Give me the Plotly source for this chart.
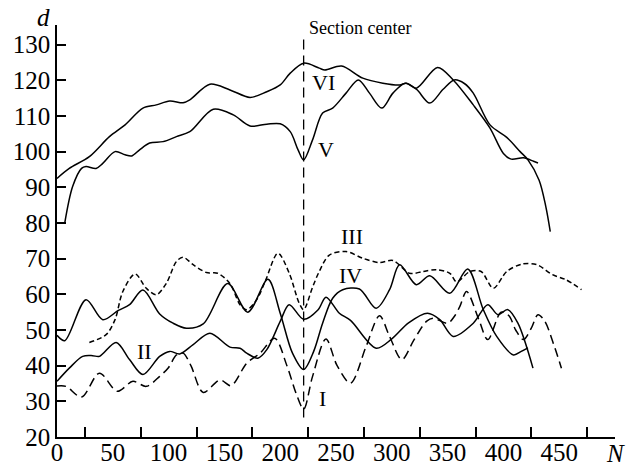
import plotly.graph_objects as go

# ---- data ----
N_I = [0, 8, 22, 38, 54, 68, 80, 92, 100, 107, 113, 120, 131, 146, 156, 170, 182, 195, 206, 214.5, 221,
       229, 241, 251, 263, 277, 289, 298, 309, 320, 331, 337, 350, 356, 361, 367, 378, 386, 398, 405, 411,
       418, 425, 431, 437, 445, 452]
d_I = [34.3, 34.2, 31.2, 37.9, 32.8, 35.6, 34.2, 37.0, 39.5, 43.0, 43.5, 40.0, 32.5, 36.0, 34.4, 40.7, 43.5,
       47.7, 40.0, 32.0, 27.8, 37.0, 47.5, 40.0, 35.1, 45.4, 54.0, 48.2, 41.7, 47.3, 52.4, 53.3, 51.9, 53.8,
       56.6, 60.8, 52.9, 47.3, 55.0, 54.0, 50.0, 47.3, 50.5, 54.3, 52.5, 46.0, 39.3]

N_II = [0, 11, 23, 32, 38, 53, 65, 77, 92, 101, 110, 122, 137, 155, 164, 170, 180, 188, 200, 208, 221,
        234, 241, 253, 263, 286, 300, 315, 332, 343, 355, 373, 386, 395, 404, 413, 426.5]
d_II = [35.6, 39.3, 42.6, 42.8, 42.6, 46.5, 41.7, 37.5, 42.6, 44.0, 43.3, 45.9, 49.1, 45.2, 44.9, 43.5,
        42.1, 44.5, 52.4, 57.1, 53.0, 55.7, 59.2, 54.7, 52.7, 44.9, 47.5, 52.0, 54.7, 52.9, 48.2, 51.9,
        57.1, 54.3, 55.7, 51.9, 39.3]

N_III = [29, 44, 52, 59, 70, 80, 89, 98, 107, 113, 122, 134, 144, 155, 164, 170, 179, 187, 198, 208, 217,
         221, 229, 235, 244, 259, 274, 289, 301, 316, 328, 340, 352, 358, 370, 380, 391, 403, 417, 430,
         444, 456, 470]
d_III = [46.5, 48.7, 52.9, 60.8, 65.7, 61.7, 59.9, 63.1, 69.2, 70.4, 68.3, 66.1, 65.9, 63.0, 57.1, 55.7,
         58.5, 64.0, 71.5, 66.0, 57.5, 55.7, 62.0, 66.4, 71.0, 72.0, 70.1, 68.9, 69.5, 65.9, 66.4, 66.9,
         65.9, 63.5, 66.4, 66.4, 61.7, 66.4, 68.5, 68.3, 65.5, 64.1, 61.3]

N_IV = [0, 7, 26, 41, 55, 65, 77, 92, 104, 116, 131, 153, 171, 189, 200, 211, 221, 230, 238, 247, 256,
        271, 286, 298, 307, 322, 334, 352, 368, 382, 394, 409, 416, 422]
d_IV = [48.5, 47.0, 58.5, 52.9, 55.5, 57.1, 61.2, 54.5, 51.9, 50.5, 51.7, 63.0, 55.0, 64.2, 54.7, 43.5,
        38.9, 44.0, 51.9, 58.9, 61.3, 61.5, 56.1, 61.3, 68.3, 62.7, 65.2, 60.3, 67.1, 55.7, 48.2, 43.0,
        44.0, 45.0]

N_V = [7, 14, 22, 26, 35, 41, 52, 61, 67, 74, 83, 95, 107, 119, 140, 158, 173, 188, 200, 209, 216, 221,
       229, 238, 247, 259, 270, 280, 291, 301, 312, 322, 334, 346, 356, 365, 373, 388, 403, 415, 422,
       432, 438, 442]
d_V = [80.1, 90.2, 95.3, 95.8, 95.3, 96.7, 100.0, 99.1, 98.8, 100.5, 102.4, 102.8, 104.2, 105.6, 111.9,
       110.3, 107.2, 107.7, 107.8, 105.6, 100.5, 97.7, 103.3, 110.8, 112.2, 116.4, 120.1, 116.4, 112.2,
       116.4, 119.2, 117.5, 113.6, 117.5, 120.1, 119.1, 116.4, 107.5, 104.0, 100.0, 97.7, 92.0, 84.6, 77.6]

N_VI = [0, 11, 29, 47, 61, 77, 89, 101, 113, 119, 137, 155, 173, 188, 200, 209, 221, 235, 240, 255, 274,
        292, 307, 313, 322, 341, 355, 373, 388, 400, 407, 418, 427, 431]
d_VI = [92.5, 95.3, 98.6, 104.2, 107.5, 112.2, 113.1, 114.2, 113.7, 114.5, 118.9, 117.3, 115.2, 116.8,
        118.7, 122.0, 124.8, 123.4, 122.9, 124.0, 120.6, 119.2, 118.7, 119.2, 117.8, 123.6, 120.1, 113.1,
        106.6, 99.5, 97.9, 98.3, 97.3, 96.8]

center_N = [221, 221]
center_d = [25.5, 133]

curve_labels = ["I", "II", "III", "IV", "V", "VI"]
label_N = [238, 78, 264, 263, 241, 239]
label_d = [30.8, 43.9, 76.1, 65.2, 100.5, 119.5]

x_labels = list(range(0, 451, 50))
x_minor = list(range(25, 476, 50))
y_ticks = list(range(20, 131, 10))

SERIF = "Liberation Serif"

fig = go.Figure()

def add(N, d, dash):
    fig.add_trace(go.Scatter(x=N, y=d, mode="lines",
                             line=dict(color="black", width=1.5, dash=dash, shape="spline", smoothing=0.9),
                             hoverinfo="skip"))

add(N_I, d_I, "9px,5px")
add(N_II, d_II, "solid")
add(N_III, d_III, "5px,3px")
add(N_IV, d_IV, "solid")
add(N_V, d_V, "solid")
add(N_VI, d_VI, "solid")

fig.add_trace(go.Scatter(x=center_N, y=center_d, mode="lines",
                         line=dict(color="black", width=1.3, dash="10px,6px"), hoverinfo="skip"))

for t, xx, yy in zip(curve_labels, label_N, label_d):
    fig.add_annotation(x=xx, y=yy, text=t, showarrow=False,
                       font=dict(family=SERIF, size=22, color="black"))

fig.add_annotation(x=224, y=134.6, text="Section center", showarrow=False, xanchor="left",
                   yanchor="middle", font=dict(family=SERIF, size=18, color="black"))
fig.add_annotation(x=-0.024, y=1.017, xref="paper", yref="paper", text="<i>d</i>", showarrow=False,
                   xanchor="center", yanchor="middle", font=dict(family=SERIF, size=25, color="black"))
fig.add_annotation(x=1.0, y=-0.04, xref="paper", yref="paper", text="<i>N</i>", showarrow=False,
                   xanchor="center", yanchor="middle", font=dict(family=SERIF, size=25, color="black"))

fig.update_xaxes(range=[0, 500], showline=True, linecolor="black", linewidth=1.5,
                 tickmode="array", tickvals=x_labels, ticks="", showgrid=False, zeroline=False,
                 automargin=False, ticklabelstandoff=-8,
                 tickfont=dict(family=SERIF, size=25, color="black"),
                 minor=dict(tickmode="array", tickvals=x_minor, ticks="inside", ticklen=10,
                            tickwidth=1.5, tickcolor="black", showgrid=False))
fig.update_yaxes(range=[20, 135.5], showline=True, linecolor="black", linewidth=1.5,
                 tickmode="array", tickvals=y_ticks, ticks="inside", ticklen=9, tickwidth=1.5,
                 tickcolor="black", showgrid=False, zeroline=False, automargin=False,
                 tickfont=dict(family=SERIF, size=25, color="black"))

fig.update_layout(width=632, height=470, margin=dict(l=57, r=17, t=25, b=33),
                  font=dict(family=SERIF, color="black"),
                  plot_bgcolor="white", paper_bgcolor="white", showlegend=False)

fig.write_html("out.html")
